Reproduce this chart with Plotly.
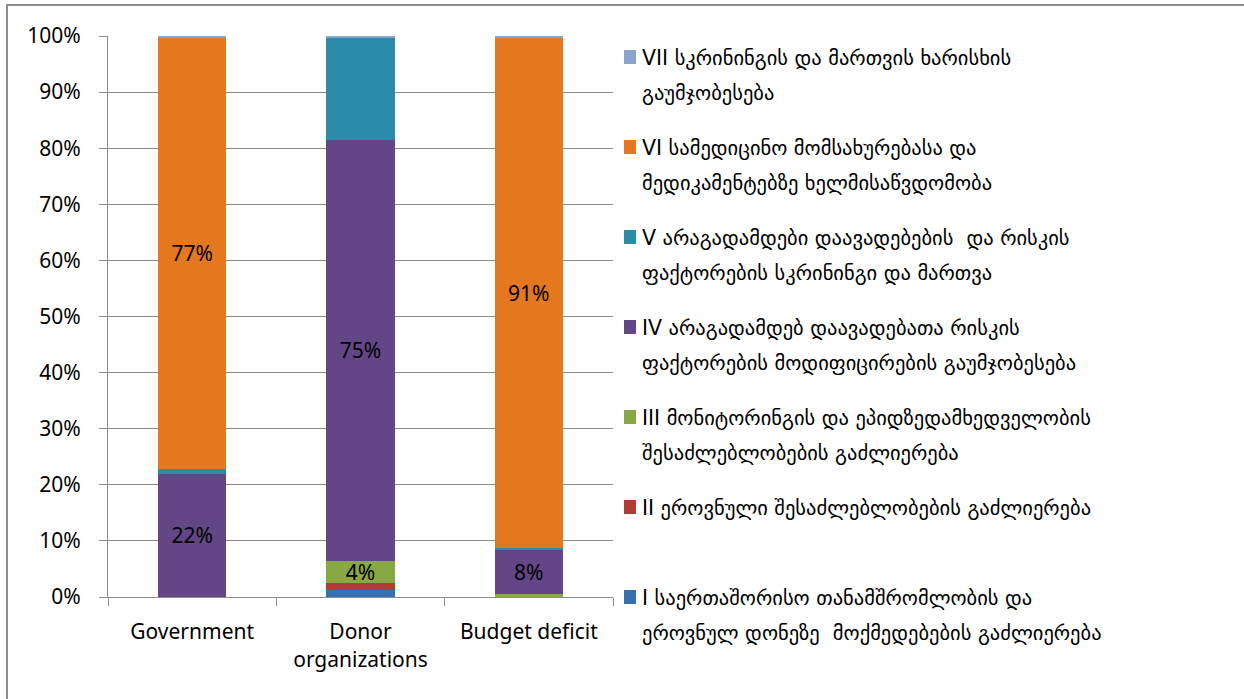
import plotly.graph_objects as go

# Funding source categories (x axis)
categories = ["Government", "Donor<br>organizations", "Budget deficit"]

# Strategic directions, in stacking order (bottom to top)
series_names = [
    "I საერთაშორისო თანამშრომლობის და<br>ეროვნულ დონეზე  მოქმედებების გაძლიერება",
    "II ეროვნული შესაძლებლობების გაძლიერება",
    "III მონიტორინგის და ეპიდზედამხედველობის<br>შესაძლებლობების გაძლიერება",
    "IV არაგადამდებ დაავადებათა რისკის<br>ფაქტორების მოდიფიცირების გაუმჯობესება",
    "V არაგადამდები დაავადებების  და რისკის<br>ფაქტორების სკრინინგი და მართვა",
    "VI სამედიცინო მომსახურებასა და<br>მედიკამენტებზე ხელმისაწვდომობა",
    "VII სკრინინგის და მართვის ხარისხის<br>გაუმჯობესება",
]

# Share of each direction per funding source (%)
dir_I = [0.0, 1.2, 0.0]
dir_II = [0.0, 1.3, 0.0]
dir_III = [0.0, 4.0, 0.5]
dir_IV = [22.0, 75.0, 8.0]
dir_V = [0.8, 18.3, 0.2]
dir_VI = [77.0, 0.0, 91.0]
dir_VII = [0.2, 0.2, 0.3]
series_values = [dir_I, dir_II, dir_III, dir_IV, dir_V, dir_VI, dir_VII]

# Directions whose segments carry a value label
labelled = {2, 3, 5}

y_ticks = list(range(0, 101, 10))
y_tick_labels = [f"{t}%" for t in y_ticks]

colors = ["#3470B2", "#B33A36", "#88A843", "#634686", "#2A8CA8", "#E5771F", "#8AA4D0"]

W, H = 1244, 699
L, R, T, B = 108, 613, 36, 597  # plot area edges in pixels


def px_x(p):
    return (p - L) / (R - L)


def px_y(p):
    return (B - p) / (B - T)


fig = go.Figure()
for i, (name, vals) in enumerate(zip(series_names, series_values)):
    texts = [f"{round(v)}%" if (i in labelled and v >= 3) else "" for v in vals]
    fig.add_trace(go.Bar(
        name=name,
        x=categories,
        y=vals,
        marker=dict(color=colors[i], line=dict(width=0)),
        text=texts,
        texttemplate="%{text}",
        textposition="inside",
        insidetextanchor="middle",
        textangle=0,
        constraintext="none",
        textfont=dict(family="Noto Sans", size=21, color="black"),
        showlegend=False,
        hoverinfo="name+y",
    ))

# Legend drawn beside the plot, top entry = last direction
font_leg = dict(family="DejaVu Sans, Noto Sans", size=20.5, color="black")
first_line_y = 58
entry_step = 90
line_step = 35
annotations = []
shapes = []
for k, i in enumerate(reversed(range(len(series_names)))):
    y0 = first_line_y + k * entry_step
    for j, line in enumerate(series_names[i].split("<br>")):
        annotations.append(dict(
            x=px_x(640), y=px_y(y0 + j * line_step), xref="paper", yref="paper",
            xanchor="left", yanchor="middle", showarrow=False,
            text=line, font=font_leg,
        ))
    shapes.append(dict(
        type="rect", xref="paper", yref="paper",
        x0=px_x(624), x1=px_x(636), y0=px_y(y0 + 6), y1=px_y(y0 - 8),
        line=dict(width=0), fillcolor=colors[i],
    ))

# Outer chart frame
shapes.append(dict(
    type="rect", xref="paper", yref="paper",
    x0=px_x(7), x1=px_x(1300), y0=px_y(760), y1=px_y(5),
    line=dict(color="#8C8C8C", width=2), fillcolor="rgba(0,0,0,0)", layer="below",
))

fig.update_layout(
    width=W, height=H,
    barmode="stack",
    bargap=0.595,
    plot_bgcolor="white",
    paper_bgcolor="white",
    margin=dict(l=L, r=W - R, t=T, b=H - B, pad=0),
    font=dict(family="Noto Sans", size=21, color="black"),
    annotations=annotations,
    shapes=shapes,
)

fig.update_xaxes(
    type="category",
    showline=True, linecolor="#8C8C8C", linewidth=1,
    ticks="outside", tickson="boundaries", ticklen=8, tickcolor="#8C8C8C",
    ticklabelstandoff=16,
    tickfont=dict(family="Noto Sans", size=21, color="black"),
    showgrid=False,
)
fig.update_yaxes(
    range=[0, 100],
    tickvals=y_ticks, ticktext=y_tick_labels,
    showline=True, linecolor="#8C8C8C", linewidth=1,
    ticks="outside", ticklen=8, tickcolor="#8C8C8C",
    ticklabelstandoff=14,
    showgrid=True, gridcolor="#8C8C8C", gridwidth=1,
    zeroline=False,
    tickfont=dict(family="Noto Sans", size=21, color="black"),
)

fig.write_html("out.html")
